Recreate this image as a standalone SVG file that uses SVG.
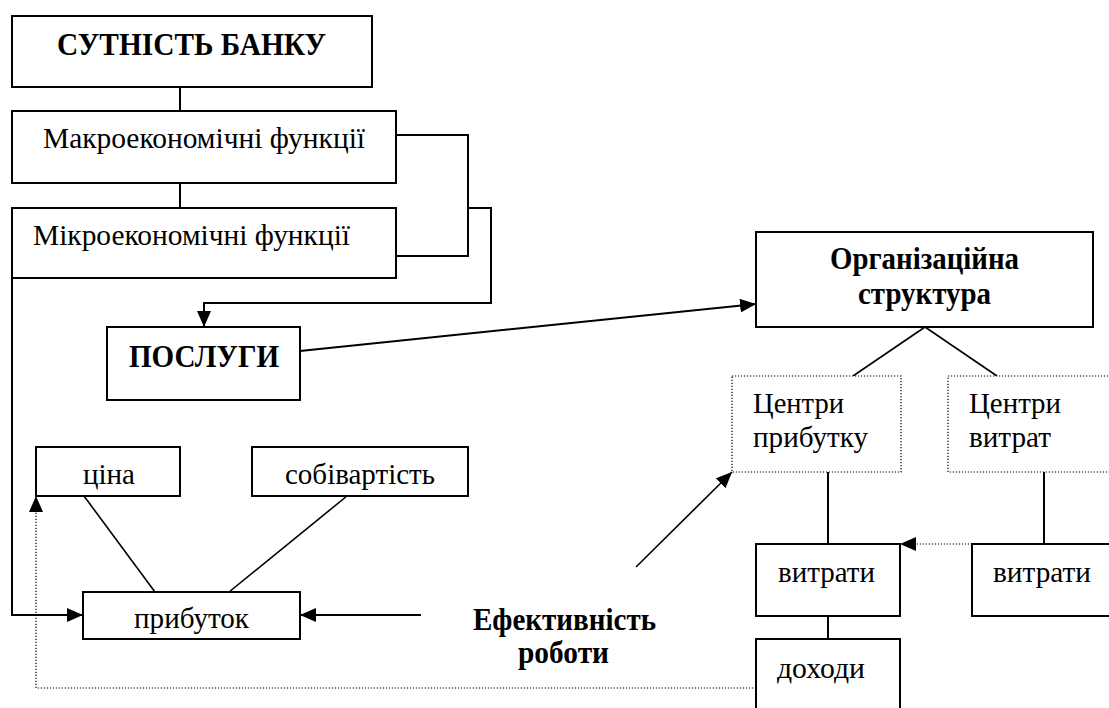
<svg xmlns="http://www.w3.org/2000/svg" width="1109" height="708" viewBox="0 0 1109 708">
<defs>
<style>
.box{fill:#fff;stroke:#000;stroke-width:2}
.dbox{fill:#fff;stroke:#000;stroke-width:1.2;stroke-dasharray:1.2 1.8}
.t{font-family:"Liberation Serif","Times New Roman",serif;font-size:29px;fill:#000}
.b{font-family:"Liberation Serif","Times New Roman",serif;font-size:31px;font-weight:bold;fill:#000}
.ln{fill:none;stroke:#000;stroke-width:2}
.thin{fill:none;stroke:#000;stroke-width:1.6}
.dot{fill:none;stroke:#000;stroke-width:1.2;stroke-dasharray:1.2 1.8}
</style>
<marker id="ah" markerUnits="userSpaceOnUse" markerWidth="16" markerHeight="14" refX="16" refY="7" orient="auto">
<path d="M0,0 L16,7 L0,14 z" fill="#000"/>
</marker>
</defs>
<rect width="1109" height="708" fill="#fff"/>

<g id="connectors">
<line class="ln" x1="180" y1="87" x2="180" y2="111"/>
<line class="ln" x1="180" y1="183" x2="180" y2="208"/>
<path class="ln" d="M396,135 H468 V256 H396"/>
<path class="ln" d="M468,208 H491 V303 H204 V327" marker-end="url(#ah)"/>
<path class="ln" d="M12,278 V615 H83" marker-end="url(#ah)"/>
<line class="ln" x1="421" y1="615" x2="300" y2="615" marker-end="url(#ah)"/>
<line class="ln" x1="300" y1="351" x2="756" y2="304" marker-end="url(#ah)"/>
<line class="thin" x1="84" y1="496" x2="155" y2="592"/>
<line class="thin" x1="347" y1="496" x2="229" y2="592"/>
<line class="thin" x1="925" y1="327" x2="853" y2="376"/>
<line class="thin" x1="925" y1="327" x2="997" y2="376"/>
<line class="thin" x1="636" y1="567" x2="732" y2="472" marker-end="url(#ah)"/>
<line class="ln" x1="828" y1="472" x2="828" y2="544"/>
<line class="ln" x1="1044" y1="472" x2="1044" y2="544"/>
<line class="ln" x1="828" y1="616" x2="828" y2="639"/>
<path class="dot" d="M756,688 H36 V496" marker-end="url(#ah)"/>
<line class="dot" x1="972" y1="544" x2="900" y2="544" marker-end="url(#ah)"/>
</g>

<g id="sutnist">
<rect class="box" x="12" y="16" width="360" height="71"/>
<text class="b" x="57" y="55" textLength="269" lengthAdjust="spacingAndGlyphs">СУТНІСТЬ БАНКУ</text>
</g>
<g id="makro">
<rect class="box" x="12" y="111" width="384" height="72"/>
<text class="t" x="43" y="148" textLength="322" lengthAdjust="spacingAndGlyphs">Макроекономічні функції</text>
</g>
<g id="mikro">
<rect class="box" x="12" y="208" width="384" height="70"/>
<text class="t" x="33" y="245" textLength="317" lengthAdjust="spacingAndGlyphs">Мікроекономічні функції</text>
</g>
<g id="posluhy">
<rect class="box" x="107" y="327" width="193" height="73"/>
<text class="b" x="129" y="367" textLength="150" lengthAdjust="spacingAndGlyphs">ПОСЛУГИ</text>
</g>
<g id="tsina">
<rect class="box" x="36" y="447" width="144" height="49"/>
<text class="t" x="83" y="484" textLength="52" lengthAdjust="spacingAndGlyphs">ціна</text>
</g>
<g id="sobivartist">
<rect class="box" x="252" y="447" width="216" height="49"/>
<text class="t" x="285" y="484" textLength="150" lengthAdjust="spacingAndGlyphs">собівартість</text>
</g>
<g id="prybutok">
<rect class="box" x="83" y="592" width="217" height="47"/>
<text class="t" x="134" y="628" textLength="115" lengthAdjust="spacingAndGlyphs">прибуток</text>
</g>
<g id="efektyvnist">
<text class="b" x="473" y="630" textLength="183" lengthAdjust="spacingAndGlyphs">Ефективність</text>
<text class="b" x="518" y="663" textLength="91" lengthAdjust="spacingAndGlyphs">роботи</text>
</g>
<g id="org">
<rect class="box" x="756" y="232" width="337" height="95"/>
<text class="b" x="830" y="269" textLength="189" lengthAdjust="spacingAndGlyphs">Організаційна</text>
<text class="b" x="858" y="304" textLength="133" lengthAdjust="spacingAndGlyphs">структура</text>
</g>
<g id="tsentry-prybutku">
<rect class="dbox" x="732" y="376" width="169" height="96"/>
<text class="t" x="753" y="413" textLength="91" lengthAdjust="spacingAndGlyphs">Центри</text>
<text class="t" x="753" y="447" textLength="115" lengthAdjust="spacingAndGlyphs">прибутку</text>
</g>
<g id="tsentry-vytrat">
<rect class="dbox" x="948" y="376" width="180" height="96"/>
<text class="t" x="969" y="413" textLength="92" lengthAdjust="spacingAndGlyphs">Центри</text>
<text class="t" x="969" y="447" textLength="82" lengthAdjust="spacingAndGlyphs">витрат</text>
</g>
<g id="vytraty-left">
<rect class="box" x="756" y="544" width="144" height="72"/>
<text class="t" x="778" y="582" textLength="97" lengthAdjust="spacingAndGlyphs">витрати</text>
</g>
<g id="vytraty-right">
<rect class="box" x="972" y="544" width="160" height="72"/>
<text class="t" x="993" y="582" textLength="98" lengthAdjust="spacingAndGlyphs">витрати</text>
</g>
<g id="dokhody">
<rect class="box" x="756" y="639" width="144" height="90"/>
<text class="t" x="777" y="678" textLength="88" lengthAdjust="spacingAndGlyphs">доходи</text>
</g>
</svg>
